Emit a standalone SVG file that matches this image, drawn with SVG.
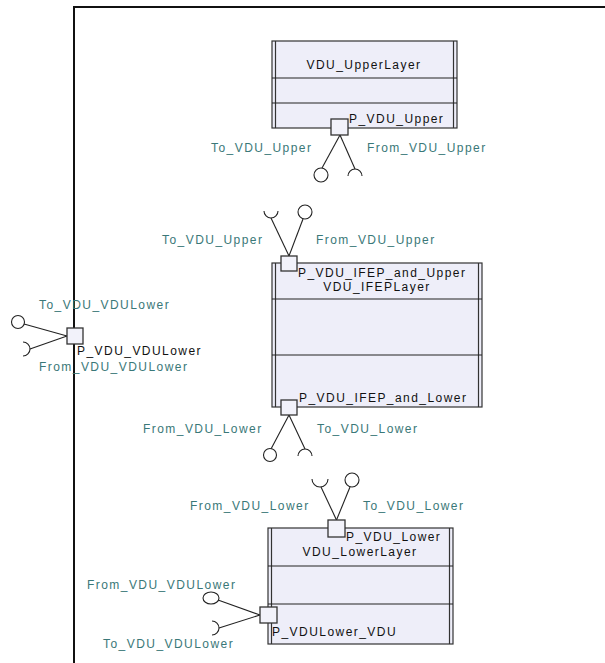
<svg xmlns="http://www.w3.org/2000/svg" width="605" height="663" viewBox="0 0 605 663">
<style>
text{font-family:"Liberation Sans",Arial,sans-serif;font-size:12px;letter-spacing:1.45px}
.lbl{fill:#3a7878}
.blk{fill:#111}
.box{fill:#eeeef9;stroke:#333;stroke-width:1.2}
.edge{stroke:#333;stroke-width:1.2;fill:none}
.div{stroke:#222;stroke-width:1.2}
.port{fill:#f2f2fa;stroke:#333;stroke-width:1.3}
.wire{stroke:#222;stroke-width:1.1;fill:none}
.ball{fill:#fff;stroke:#222;stroke-width:1.1}
.frame{stroke:#111;stroke-width:2;fill:none}
</style>
<rect width="605" height="663" fill="#fff"/>
<path class="frame" d="M74,663 V7 H605"/>

<g id="VDU_UpperLayer">
<rect class="box" x="272" y="41" width="185" height="87"/>
<line class="edge" x1="275.5" y1="41" x2="275.5" y2="128"/>
<line class="edge" x1="453.5" y1="41" x2="453.5" y2="128"/>
<line class="div" x1="272" y1="78" x2="457" y2="78"/>
<line class="div" x1="272" y1="103" x2="457" y2="103"/>
<text class="blk" x="364" y="69" text-anchor="middle">VDU_UpperLayer</text>
</g>

<g id="VDU_IFEPLayer">
<rect class="box" x="272" y="263" width="210" height="144"/>
<line class="edge" x1="275.5" y1="263" x2="275.5" y2="407"/>
<line class="edge" x1="478.5" y1="263" x2="478.5" y2="407"/>
<line class="div" x1="272" y1="299" x2="482" y2="299"/>
<line class="div" x1="272" y1="355" x2="482" y2="355"/>
<text class="blk" x="377" y="291" text-anchor="middle">VDU_IFEPLayer</text>
</g>

<g id="VDU_LowerLayer">
<rect class="box" x="268" y="528" width="185" height="116"/>
<line class="edge" x1="271.5" y1="528" x2="271.5" y2="644"/>
<line class="edge" x1="449.5" y1="528" x2="449.5" y2="644"/>
<line class="div" x1="268" y1="566" x2="453" y2="566"/>
<line class="div" x1="268" y1="604" x2="453" y2="604"/>
<text class="blk" x="360" y="556" text-anchor="middle">VDU_LowerLayer</text>
</g>

<g id="connectors">
<line class="wire" x1="340" y1="135" x2="322" y2="168"/>
<line class="wire" x1="340" y1="135" x2="355" y2="169"/>
<line class="wire" x1="289" y1="256" x2="271" y2="218"/>
<line class="wire" x1="289" y1="256" x2="303" y2="219"/>
<line class="wire" x1="289" y1="415" x2="271" y2="449"/>
<line class="wire" x1="289" y1="415" x2="305" y2="449"/>
<line class="wire" x1="336.5" y1="520" x2="321" y2="487"/>
<line class="wire" x1="336.5" y1="520" x2="350" y2="487"/>
<line class="wire" x1="260" y1="615" x2="218" y2="600"/>
<line class="wire" x1="260" y1="615" x2="219" y2="628"/>
<line class="wire" x1="67" y1="336" x2="24" y2="324"/>
<line class="wire" x1="67" y1="336" x2="30" y2="349"/>
</g>

<g id="P_VDU_Upper">
<rect class="port" x="331" y="119" width="17" height="16"/>
<text class="blk" x="349" y="123">P_VDU_Upper</text>
<circle class="ball" cx="321" cy="175" r="7"/>
<path class="wire" d="M348,176 A7,7 0 0 1 362,176"/>
<text class="lbl" x="211" y="152">To_VDU_Upper</text>
<text class="lbl" x="367" y="152">From_VDU_Upper</text>
</g>

<g id="P_VDU_IFEP_and_Upper">
<rect class="port" x="281" y="256" width="16" height="15"/>
<text class="blk" x="298" y="277">P_VDU_IFEP_and_Upper</text>
<path class="wire" d="M264,211 A7,7 0 0 0 278,211"/>
<circle class="ball" cx="305" cy="212" r="7"/>
<text class="lbl" x="162" y="244">To_VDU_Upper</text>
<text class="lbl" x="316" y="244">From_VDU_Upper</text>
</g>

<g id="P_VDU_IFEP_and_Lower">
<rect class="port" x="281" y="400" width="16" height="15"/>
<text class="blk" x="299" y="402">P_VDU_IFEP_and_Lower</text>
<circle class="ball" cx="270" cy="455" r="6.5"/>
<path class="wire" d="M298,456 A7,7 0 0 1 312,456"/>
<text class="lbl" x="143" y="433">From_VDU_Lower</text>
<text class="lbl" x="317" y="433">To_VDU_Lower</text>
</g>

<g id="P_VDU_Lower">
<rect class="port" x="328" y="520" width="17" height="17"/>
<text class="blk" x="346" y="541">P_VDU_Lower</text>
<path class="wire" d="M312,479 A8,8 0 0 0 328,479"/>
<circle class="ball" cx="352" cy="480" r="7"/>
<text class="lbl" x="190" y="510">From_VDU_Lower</text>
<text class="lbl" x="363" y="510">To_VDU_Lower</text>
</g>

<g id="P_VDULower_VDU">
<rect class="port" x="260" y="607" width="17" height="16"/>
<text class="blk" x="272" y="636">P_VDULower_VDU</text>
<ellipse class="ball" cx="211" cy="598" rx="8" ry="6"/>
<path class="wire" d="M212,621 A7,7 0 0 1 212,635"/>
<text class="lbl" x="87" y="589">From_VDU_VDULower</text>
<text class="lbl" x="103" y="648">To_VDU_VDULower</text>
</g>

<g id="P_VDU_VDULower">
<rect class="port" x="67" y="328" width="16" height="16"/>
<text class="blk" x="77" y="355">P_VDU_VDULower</text>
<circle class="ball" cx="18" cy="322" r="6.5"/>
<path class="wire" d="M23,342 A7,7 0 0 1 23,356"/>
<text class="lbl" x="39" y="309">To_VDU_VDULower</text>
<text class="lbl" x="39" y="371">From_VDU_VDULower</text>
</g>
</svg>
